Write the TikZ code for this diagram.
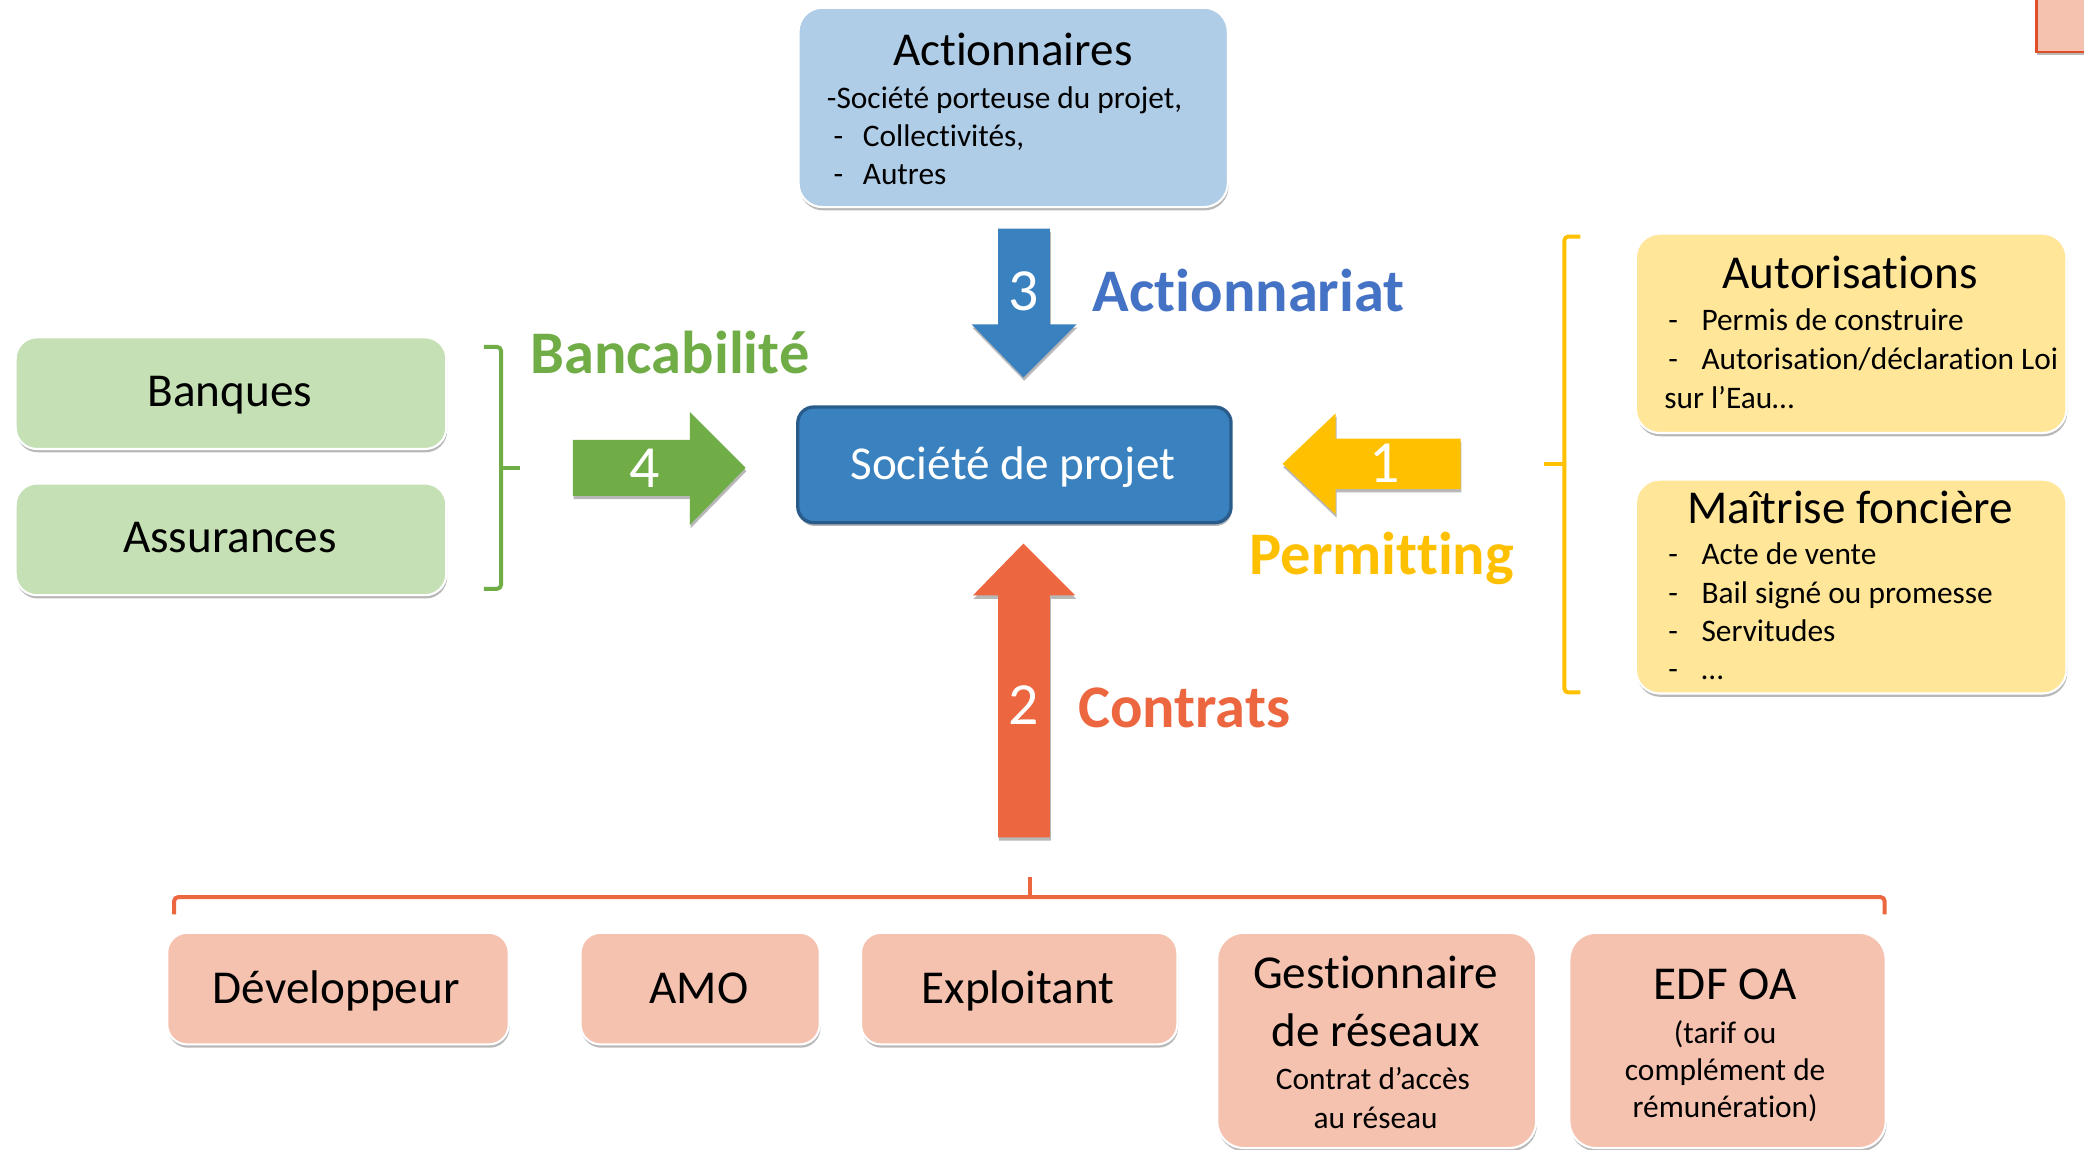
\documentclass[tikz,border=0pt]{standalone}
\usepackage{fontspec}
\setmainfont{Carlito}[RawFeature={-liga;-clig;-calt;-dlig}]
\usetikzlibrary{shadows}
\definecolor{lblue}{RGB}{175,205,231}
\definecolor{blueA}{RGB}{58,130,191}
\definecolor{blueD}{RGB}{41,91,139}
\definecolor{blueT}{RGB}{68,114,196}
\definecolor{lgreen}{RGB}{197,224,180}
\definecolor{greenA}{RGB}{112,173,71}
\definecolor{lyellow}{RGB}{255,230,153}
\definecolor{yellowA}{RGB}{255,192,0}
\definecolor{salmon}{RGB}{246,194,176}
\definecolor{orangeA}{RGB}{236,102,64}
\definecolor{redD}{RGB}{222,78,40}
\begin{document}
\begin{tikzpicture}[x=1pt,y=-1pt,
  shad/.style={drop shadow={shadow xshift=0.6pt,shadow yshift=-2.5pt,opacity=0.28,fill=black}},
  box/.style={rectangle,rounded corners=#1,draw=white,line width=1.6pt,shad,inner sep=0pt,anchor=north west},
  box/.default=18pt,
  big/.style={font=\fontsize{35.5}{40}\selectfont,anchor=base,inner sep=0pt},
  small/.style={font=\fontsize{23.6}{28}\selectfont,anchor=base west,inner sep=0pt},
  smallc/.style={font=\fontsize{23.6}{28}\selectfont,anchor=base,inner sep=0pt},
  lbl/.style={font=\fontsize{45.5}{50}\selectfont\bfseries,anchor=base west,inner sep=0pt},
  num/.style={font=\fontsize{45}{50}\selectfont,text=white,anchor=base,inner sep=0pt},
  brace/.style={line width=3pt,rounded corners=3pt,line join=round},
  arr/.style={shad}]
\clip (0,0) rectangle (1568,865);
\fill[white] (0,0) rectangle (1568,865);

% top-right partial box
\filldraw[fill=salmon,draw=redD,line width=2pt,shad] (1532,-8) rectangle (1580,39);

% ---------- boxes ----------
\node[box,fill=lblue,minimum width=323pt,minimum height=150pt] (act) at (600,5) {};
\node[box=12pt,fill=blueA,draw=blueD,line width=2.5pt,minimum width=326pt,minimum height=87pt] (soc) at (599,305) {};
\node[box=16pt,fill=lgreen,minimum width=324pt,minimum height=84pt] (banq) at (11,253) {};
\node[box=16pt,fill=lgreen,minimum width=324pt,minimum height=84pt] (assu) at (11,363) {};
\node[box,fill=lyellow,minimum width=324pt,minimum height=150pt] (auto) at (1230,175) {};
\node[box,fill=lyellow,minimum width=324pt,minimum height=161pt] (mait) at (1230,360) {};
\node[box=15pt,fill=salmon,minimum width=257pt,minimum height=84pt] (dev) at (125,701) {};
\node[box=15pt,fill=salmon,minimum width=180pt,minimum height=84pt] (amo) at (436,701) {};
\node[box=15pt,fill=salmon,minimum width=238pt,minimum height=84pt] (expl) at (647,701) {};
\node[box=20pt,fill=salmon,minimum width=240pt,minimum height=162pt] (gest) at (915,701) {};
\node[box=20pt,fill=salmon,minimum width=238pt,minimum height=162pt] (edf) at (1180,701) {};

% ---------- texts in boxes ----------
\node[big] (tact) at (762,49) {Actionnaires};
\node[small] (a1) at (622,81.5) {-Société porteuse du projet,};
\node[small] (a2d) at (627,110.5) {-};
\node[small] (a2) at (649,110.5) {Collectivités,};
\node[small] (a3d) at (627,139) {-};
\node[small] (a3) at (649,139) {Autres};

\node[big,text=white] (tsoc) at (762,360.5) {Société de projet};

\node[big] (tbanq) at (173,306) {Banques};
\node[big] (tassu) at (173,416) {Assurances};

\node[big] (tauto) at (1392,217) {Autorisations};
\node[small] (u1d) at (1255,249) {-};
\node[small] (u1) at (1280,249) {Permis de construire};
\node[small] (u2d) at (1255,278) {-};
\node[small] (u2) at (1280,278) {Autorisation/déclaration Loi};
\node[small] (u3) at (1252,307) {sur l’Eau…};

\node[big] (tmait) at (1392,394) {Maîtrise foncière};
\node[small] (m1d) at (1255,425) {-};
\node[small] (m1) at (1280,425) {Acte de vente};
\node[small] (m2d) at (1255,454) {-};
\node[small] (m2) at (1280,454) {Bail signé ou promesse};
\node[small] (m3d) at (1255,483) {-};
\node[small] (m3) at (1280,483) {Servitudes};
\node[small] (m4d) at (1255,511) {-};
\node[small] (m4) at (1280,511) {…};

\node[big] (tdev) at (253,755) {Développeur};
\node[big] (tamo) at (526,755) {AMO};
\node[big] (texpl) at (766,755) {Exploitant};
\node[big] (tg1) at (1035,744) {Gestionnaire};
\node[big] (tg2) at (1035,787) {de réseaux};
\node[smallc] (tg3) at (1033,820) {Contrat d’accès};
\node[smallc] (tg4) at (1035,849) {au réseau};
\node[big] (te1) at (1298,752) {EDF OA};
\node[smallc] (te2) at (1298,785) {(tarif ou};
\node[smallc] (te3) at (1298,813) {complément de};
\node[smallc] (te4) at (1298,841) {rémunération)};

% ---------- block arrows ----------
\fill[blueA,arr] (751,172) -- (790,172) -- (790,244) -- (810,244) -- (770,284) -- (731,244) -- (751,244) -- cycle;
\fill[orangeA,arr] (751,630) -- (790,630) -- (790,448) -- (809,448) -- (770,409) -- (732,448) -- (751,448) -- cycle;
\fill[yellowA,arr] (1099,330) -- (1099,368) -- (1005,368) -- (1005,387) -- (965,349) -- (1005,311) -- (1005,330) -- cycle;
\fill[greenA,arr] (431,331) -- (519,331) -- (519,310) -- (561,352) -- (519,395) -- (519,373) -- (431,373) -- cycle;

\node[num] (n3) at (770,233.5) {3};
\node[num] (n2) at (770,545) {2};
\node[num] (n1) at (1042,363) {1};
\node[num] (n4) at (485,367) {4};

\node[lbl,text=blueT] (lact) at (822,234) {Actionnariat};
\node[lbl,text=greenA] (lban) at (399,281) {Bancabilité};
\node[lbl,text=yellowA] (lper) at (940,432) {Permitting};
\node[lbl,text=orangeA] (lcon) at (811,547) {Contrats};

% ---------- braces ----------
\draw[brace,greenA] (364,261) -- (377,261) -- (377,443) -- (364,443);
\draw[brace,greenA,rounded corners=0pt] (377,352) -- (391,352);
\draw[brace,yellowA] (1189,178) -- (1177,178) -- (1177,521) -- (1189,521);
\draw[brace,yellowA,rounded corners=0pt] (1177,349) -- (1162,349);
\draw[brace,orangeA] (131,688) -- (131,675) -- (1418,675) -- (1418,688);
\draw[brace,orangeA,rounded corners=0pt] (775,675) -- (775,660);
\end{tikzpicture}
\end{document}
